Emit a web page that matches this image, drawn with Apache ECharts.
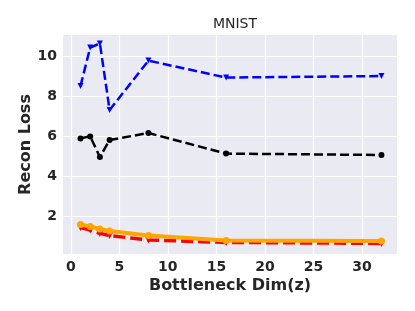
<!DOCTYPE html>
<html><head><meta charset="utf-8">
<script src="https://cdn.jsdelivr.net/npm/echarts@6/dist/echarts.min.js"></script>
<style>html,body{margin:0;padding:0;background:#fff}#c{width:415px;height:311px}</style>
</head><body><div id="c"></div>
<script>
const dims = [1, 2, 3, 4, 8, 16, 32];
const blueVals = [8.5, 10.42, 10.63, 7.3, 9.77, 8.92, 9.0];
const blackVals = [5.88, 5.98, 4.95, 5.8, 6.15, 5.12, 5.05];
const redVals = [1.42, 1.3, 1.13, 1.02, 0.8, 0.68, 0.63];
const orangeVals = [1.58, 1.47, 1.35, 1.25, 1.02, 0.78, 0.75];
const xTicks = [0, 5, 10, 15, 20, 25, 30];
const yTicks = [2, 4, 6, 8, 10];

const pair = v => dims.map((d, i) => [d, v[i]]);
const font = 'DejaVu Sans';
const chart = echarts.init(document.getElementById('c'), null, {renderer: 'canvas'});
chart.setOption({
  animation: false,
  backgroundColor: '#ffffff',
  title: {text: 'MNIST', left: 230, top: 12, textAlign: 'center',
    textStyle: {fontFamily: font, fontSize: 14, fontWeight: 'normal', color: '#262626'}},
  grid: {left: 63, right: 18, top: 35, bottom: 57, show: true, backgroundColor: '#EAEAF2', borderWidth: 0},
  xAxis: {type: 'value', min: -0.8, max: 33.6,
    name: 'Bottleneck Dim(z)', nameLocation: 'middle', nameGap: 24, nameMoveOverlap: false,
    nameTextStyle: {fontFamily: font, fontSize: 16, fontWeight: 'bold', color: '#262626'},
    axisLine: {show: false}, axisTick: {show: false, customValues: xTicks},
    axisLabel: {customValues: xTicks, fontFamily: font, fontSize: 14, fontWeight: 'bold', color: '#262626', margin: 6},
    splitLine: {show: true, lineStyle: {color: '#ffffff', width: 1.2}}},
  yAxis: {type: 'value', min: 0.1, max: 11.05,
    name: 'Recon Loss', nameLocation: 'middle', nameGap: 29, nameRotate: 90, nameMoveOverlap: false,
    nameTextStyle: {fontFamily: font, fontSize: 16, fontWeight: 'bold', color: '#262626'},
    axisLine: {show: false}, axisTick: {show: false, customValues: yTicks},
    axisLabel: {customValues: yTicks, fontFamily: font, fontSize: 14, fontWeight: 'bold', color: '#262626', margin: 6},
    splitLine: {show: true, lineStyle: {color: '#ffffff', width: 1.2}}},
  series: [
    {type: 'line', data: pair(blueVals), symbol: 'triangle', symbolRotate: 180, symbolSize: 6,
      itemStyle: {color: '#0000FF'}, lineStyle: {color: '#0000FF', width: 2.5, type: [9, 4]}},
    {type: 'line', data: pair(blackVals), symbol: 'circle', symbolSize: 6,
      itemStyle: {color: '#000000'}, lineStyle: {color: '#000000', width: 2.5, type: [9, 4]}},
    {type: 'line', data: pair(redVals), symbol: 'triangle', symbolRotate: 180, symbolSize: 7,
      itemStyle: {color: '#FF0000'}, lineStyle: {color: '#FF0000', width: 3.5, type: [12, 5]}},
    {type: 'line', data: pair(orangeVals), symbol: 'circle', symbolSize: 7,
      itemStyle: {color: '#FFA500'}, lineStyle: {color: '#FFA500', width: 4}}
  ]
});
</script></body></html>
